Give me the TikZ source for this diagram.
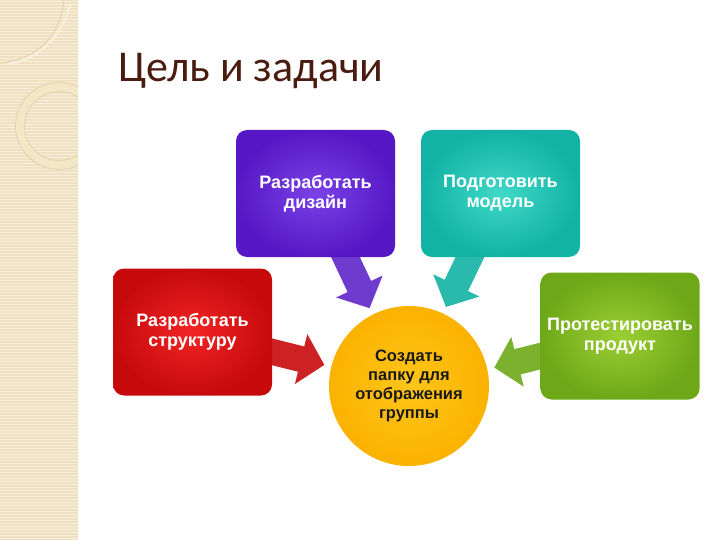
\documentclass[tikz,border=0pt]{standalone}
\usepackage{fontspec}
\setmainfont{Liberation Sans}
\newfontfamily\titlefont{Carlito}
\usepackage{xcolor}
\usetikzlibrary{arrows.meta,backgrounds}

\definecolor{bandbeige}{HTML}{EFE0C2}
\definecolor{bandlight}{HTML}{F8F0DE}
\definecolor{bandring}{HTML}{E3D2AC}
\definecolor{ringfill}{HTML}{F3E8C6}
\definecolor{titlebrown}{HTML}{4A1C10}
\definecolor{designin}{HTML}{7A42E6}
\definecolor{designout}{HTML}{5618C6}
\definecolor{modelin}{HTML}{40D8C8}
\definecolor{modelout}{HTML}{12B2A4}
\definecolor{structin}{HTML}{F22424}
\definecolor{structout}{HTML}{C60A0C}
\definecolor{testin}{HTML}{9CCE34}
\definecolor{testout}{HTML}{6EA818}
\definecolor{hubin}{HTML}{FFC61A}
\definecolor{hubout}{HTML}{FBB200}

\begin{document}
\begin{tikzpicture}[x=1pt, y=-1pt,
    task/.style={rounded corners=11pt, minimum width=159pt, minimum height=127pt,
        text=white, align=center, font=\bfseries\fontsize{18}{20}\selectfont},
    hub/.style={circle, minimum size=160pt, inner color=hubin, outer color=hubout,
        text=black!90, align=center, font=\bfseries\fontsize{16.5}{19}\selectfont},
    blockarrow/.style={line width=26pt, -{Triangle[length=24pt,width=50pt]}, shorten >=7pt}]
    \useasboundingbox (0,0) rectangle (720,540);

    % Side band
    \fill[bandbeige] (0,0) rectangle (78,540);
    \foreach \y in {1,4,...,540}
        \draw[bandlight, line width=0.9pt] (0,\y) -- (78,\y);
    \begin{scope}
        \clip (0,0) rectangle (78,540);
        \draw[ringfill, line width=8pt] (59,126) circle (39);
        \draw[bandring, line width=0.8pt] (59,126) circle (43.5);
        \draw[bandring, line width=0.8pt] (59,126) circle (34.5);
        \draw[bandring, line width=0.8pt] (64,0) .. controls (60,35) and (40,58) .. (0,63);
        \draw[bandlight, line width=2pt] (70,4) .. controls (62,38) and (38,60) .. (8,64);
    \end{scope}

    % Title
    \node[anchor=base west, inner sep=0pt, text=titlebrown,
        font=\titlefont\fontsize{44}{44}\selectfont] (title) at (118,82) {Цель и задачи};

    % Tasks
    \node[task, inner color=designin, outer color=designout] (design) at (315.5,193.5)
        {Разработать\\дизайн};
    \node[task, inner color=modelin, outer color=modelout] (model) at (500.5,193.5)
        {Подготовить\\модель};
    \node[task, inner color=structin, outer color=structout] (struct) at (192.5,332)
        {Разработать\\структуру};
    \node[task, inner color=testin, outer color=testout] (test) at (620,336)
        {Протестировать\\продукт};

    % Goal
    \node[hub] (hub) at (409,386) {Создать\\папку для\\отображения\\группы};

    % Arrows to the goal
    \begin{pgfonlayer}{background}
        \draw[blockarrow, designout!85!white] (design.center) -- (hub.117);
        \draw[blockarrow, modelout!90!white] (model.center) -- (hub.65);
        \draw[blockarrow, structout!90!white] (struct.center) -- (hub.166);
        \draw[blockarrow, testout!90!white] (test.center) -- (hub.12);
    \end{pgfonlayer}
\end{tikzpicture}
\end{document}
